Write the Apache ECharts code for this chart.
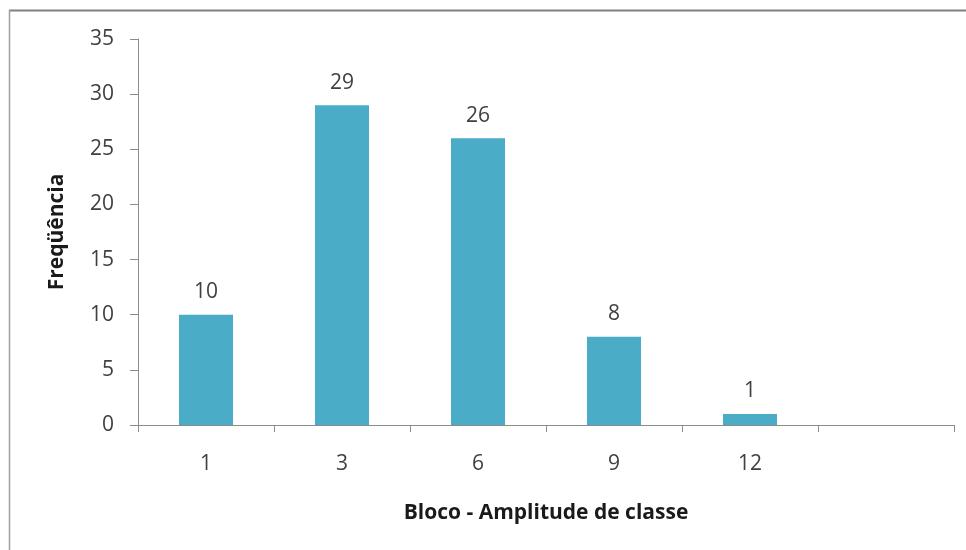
<!DOCTYPE html>
<html>
<head>
<meta charset="utf-8">
<script src="https://cdn.jsdelivr.net/npm/echarts@6/dist/echarts.min.js"></script>
<style>html,body{margin:0;padding:0;background:#fff}#c{width:966px;height:550px}</style>
</head>
<body>
<div id="c"></div>
<script>
const categories = ['1', '3', '6', '9', '12', ''];
const frequencies = [10, 29, 26, 8, 1, null];
const yTicks = { min: 0, max: 35, interval: 5 };
const xTitle = 'Bloco - Amplitude de classe';
const yTitle = 'Freqüência';

const chart = echarts.init(document.getElementById('c'), null, { renderer: 'canvas' });
const font = '"Open Sans", "DejaVu Sans", sans-serif';
chart.setOption({
  animation: false,
  backgroundColor: '#ffffff',
  graphic: [
    { type: 'line', shape: { x1: 9, y1: 10.5, x2: 966, y2: 10.5 }, style: { stroke: '#808080', lineWidth: 2 } },
    { type: 'line', shape: { x1: 9.5, y1: 10, x2: 9.5, y2: 550 }, style: { stroke: '#a0a0a0', lineWidth: 1.5 } }
  ],
  grid: { left: 138, right: 12, top: 39, bottom: 125 },
  xAxis: {
    type: 'category',
    data: categories,
    name: xTitle,
    nameLocation: 'middle',
    nameGap: 78,
    nameTextStyle: { fontFamily: font, fontSize: 21, fontWeight: 'bold', color: '#1a1a1a' },
    axisLine: { lineStyle: { color: '#8c8c8c', width: 1 } },
    axisTick: { show: true, length: 7, alignWithLabel: false, lineStyle: { color: '#8c8c8c' } },
    axisLabel: { fontFamily: font, fontSize: 21, color: '#404040', margin: 29 }
  },
  yAxis: {
    type: 'value',
    min: yTicks.min, max: yTicks.max, interval: yTicks.interval,
    name: yTitle,
    nameLocation: 'middle',
    nameGap: 70,
    nameRotate: 90,
    nameTextStyle: { fontFamily: font, fontSize: 21, fontWeight: 'bold', color: '#1a1a1a' },
    axisLine: { show: true, lineStyle: { color: '#8c8c8c', width: 1 } },
    axisTick: { show: true, length: 8, lineStyle: { color: '#8c8c8c' } },
    axisLabel: { fontFamily: font, fontSize: 21, color: '#404040', margin: 24 },
    splitLine: { show: false }
  },
  series: [{
    type: 'bar',
    data: frequencies,
    barWidth: 54,
    itemStyle: { color: '#4aacc6' },
    label: { show: true, position: 'top', distance: 12, fontFamily: font, fontSize: 21, color: '#404040' }
  }]
});
</script>
</body>
</html>
